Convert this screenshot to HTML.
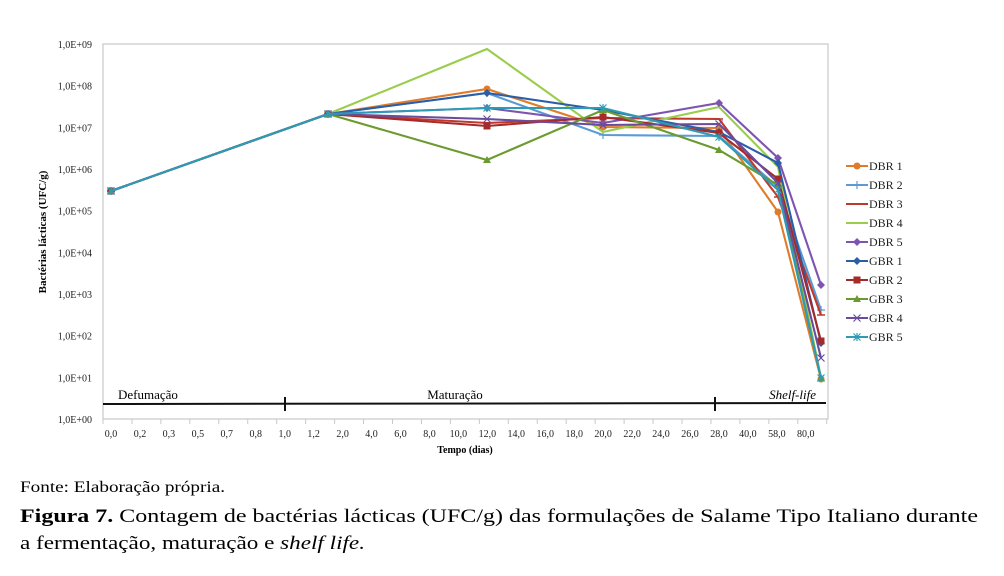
<!DOCTYPE html>
<html><head><meta charset="utf-8"><style>
body{margin:0;background:#fff}
svg{display:block;font-family:"Liberation Serif","Times New Roman",serif}
</style></head><body>
<svg width="1004" height="576" viewBox="0 0 1004 576" xmlns="http://www.w3.org/2000/svg">
<rect width="1004" height="576" fill="#fff"/>
<rect x="103" y="44" width="725" height="375" fill="none" stroke="#c8c8c8" stroke-width="1.2"/>
<g font-size="10" text-anchor="end" fill="#222">
<text x="92" y="48">1,0E+09</text><text x="92" y="89.7">1,0E+08</text><text x="92" y="131.3">1,0E+07</text>
<text x="92" y="173">1,0E+06</text><text x="92" y="214.7">1,0E+05</text><text x="92" y="256.3">1,0E+04</text>
<text x="92" y="298">1,0E+03</text><text x="92" y="339.7">1,0E+02</text><text x="92" y="381.3">1,0E+01</text>
<text x="92" y="423">1,0E+00</text>
</g>
<text transform="translate(46,232) rotate(-90)" font-size="11" font-weight="bold" text-anchor="middle">Bactérias lácticas (UFC/g)</text>
<g stroke="#c8c8c8" stroke-width="1" id="ticks"></g>
<g font-size="10" text-anchor="middle" fill="#222" id="xl"></g>
<text x="465" y="453" font-size="10" font-weight="bold" text-anchor="middle">Tempo (dias)</text>
<line x1="103" y1="404" x2="826" y2="403" stroke="#111" stroke-width="2"/>
<line x1="285" y1="397" x2="285" y2="411" stroke="#111" stroke-width="2"/>
<line x1="715" y1="397" x2="715" y2="411" stroke="#111" stroke-width="2"/>
<text x="118" y="399" font-size="13">Defumação</text>
<text x="455" y="399" font-size="13" text-anchor="middle">Maturação</text>
<text x="816" y="399" font-size="13" font-style="italic" text-anchor="end">Shelf-life</text>
<g id="series" fill="none" stroke-width="2.1"></g>
<g id="legend" font-size="12"></g>
<text x="20" y="492" font-size="16" textLength="205" lengthAdjust="spacingAndGlyphs">Fonte: Elaboração própria.</text>
<text x="20" y="522" font-size="19" textLength="958" lengthAdjust="spacingAndGlyphs"><tspan font-weight="bold">Figura 7.</tspan> Contagem de bactérias lácticas (UFC/g) das formulações de Salame Tipo Italiano durante</text>
<text x="20" y="549" font-size="19" textLength="345" lengthAdjust="spacingAndGlyphs">a fermentação, maturação e <tspan font-style="italic">shelf life.</tspan></text>
</svg>
<script>
var NS="http://www.w3.org/2000/svg";
function el(t,a,p,txt){var e=document.createElementNS(NS,t);for(var k in a)e.setAttribute(k,a[k]);if(txt)e.textContent=txt;p.appendChild(e);return e;}
var labs=["0,0","0,2","0,3","0,5","0,7","0,8","1,0","1,2","2,0","4,0","6,0","8,0","10,0","12,0","14,0","16,0","18,0","20,0","22,0","24,0","26,0","28,0","40,0","58,0","80,0"];
var xl=document.getElementById("xl"),tk=document.getElementById("ticks");
for(var i=0;i<labs.length;i++){var x=111+28.95*i;el("text",{x:x,y:437},xl,labs[i]);}
for(var i=0;i<=25;i++){var x=103+28.95*i;if(x>829)x=828;el("line",{x1:x,y1:419,x2:x,y2:424},tk);}
var X=[111,328,487,603,719,778,821];
var S=[
["DBR 1","#e07b29","circle",[191,114,89,127,128,212,379]],
["DBR 2","#5b9bd5","plus",[191,114,93,135,136,187,310]],
["DBR 3","#c0392b","dash",[191,114,123,118,119,197,315]],
["DBR 4","#9acd4a","none",[191,114,49,132,107,167,378]],
["DBR 5","#7d55b0","diamond",[191,114,108,123,103,158,285]],
["GBR 1","#2b5ea8","diamond",[191,114,93,110,132,163,343]],
["GBR 2","#a52a2a","square",[191,114,126,117,133,179,341]],
["GBR 3","#6b9a2e","tri",[191,114,160,110,150,185,378]],
["GBR 4","#6a4c9c","x",[191,114,119,125,124,183,358]],
["GBR 5","#2e9bb5","star",[191,114,108,108,137,190,378]]];
var g=document.getElementById("series"),lg=document.getElementById("legend");
function mk(t,x,y,c,p){
 if(t=="circle")el("circle",{cx:x,cy:y,r:3.5,fill:c,stroke:"none"},p);
 else if(t=="square")el("rect",{x:x-3.5,y:y-3.5,width:7,height:7,fill:c,stroke:"none"},p);
 else if(t=="diamond")el("polygon",{points:(x)+","+(y-4)+" "+(x+4)+","+y+" "+x+","+(y+4)+" "+(x-4)+","+y,fill:c,stroke:"none"},p);
 else if(t=="tri")el("polygon",{points:x+","+(y-4)+" "+(x+4)+","+(y+3)+" "+(x-4)+","+(y+3),fill:c,stroke:"none"},p);
 else if(t=="plus"){el("path",{d:"M"+(x-4)+" "+y+"h8M"+x+" "+(y-4)+"v8",stroke:c,"stroke-width":1.2},p);}
 else if(t=="x"){el("path",{d:"M"+(x-3.5)+" "+(y-3.5)+"l7 7M"+(x+3.5)+" "+(y-3.5)+"l-7 7",stroke:c,"stroke-width":1.2},p);}
 else if(t=="star"){el("path",{d:"M"+(x-3.5)+" "+(y-3.5)+"l7 7M"+(x+3.5)+" "+(y-3.5)+"l-7 7M"+x+" "+(y-4)+"v8",stroke:c,"stroke-width":1.2},p);}
 else if(t=="dash"){el("path",{d:"M"+(x-4)+" "+y+"h8",stroke:c,"stroke-width":1.5},p);}
}
S.forEach(function(s,k){
 var pts=X.map(function(x,i){return x+","+s[3][i];}).join(" ");
 el("polyline",{points:pts,stroke:s[1]},g);
 X.forEach(function(x,i){mk(s[2],x,s[3][i],s[1],g);});
 var y=166+19*k;
 el("line",{x1:846,y1:y,x2:868,y2:y,stroke:s[1],"stroke-width":2},lg);
 mk(s[2],857,y,s[1],lg);
 el("text",{x:869,y:y+4,fill:"#222"},lg,s[0]);
});
</script>
</body></html>
